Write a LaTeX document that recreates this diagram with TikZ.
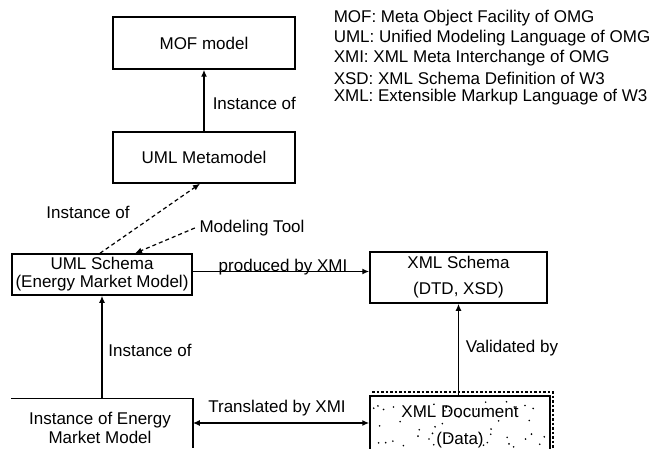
\documentclass[tikz,border=0pt]{standalone}
\usepackage{fontspec}
\setmainfont{Liberation Sans}
\usetikzlibrary{arrows.meta}
\begin{document}
\begin{tikzpicture}[x=1pt,y=-1pt,line width=1.5pt,
  every node/.style={font=\fontsize{17}{18}\selectfont},
  box/.style={draw,rectangle,inner sep=0pt,align=center},
  plain/.style={rectangle,inner sep=0pt,align=center},
  lbl/.style={inner sep=0pt,anchor=west},
  arr/.style={-{Latex[length=7pt,width=6pt]}},
  darr/.style={{Latex[length=7pt,width=6pt]}-{Latex[length=7pt,width=6pt]}},
  dashline/.style={dashed,dash pattern=on 4pt off 3pt,line width=1.2pt}]
\useasboundingbox (0,0) rectangle (650,449);
\clip (0,0) rectangle (650,449);

% legend
\node[lbl] (l1) at (333,18) {MOF: Meta Object Facility of OMG};
\node[lbl] (l2) at (333,38) {UML: Unified Modeling Language of OMG};
\node[lbl] (l3) at (333,58) {XMI: XML Meta Interchange of OMG};
\node[lbl] (l4) at (333,78) {XSD: XML Schema Definition of W3};
\node[lbl] (l5) at (333,97) {XML: Extensible Markup Language of W3};

% boxes
\node[box,minimum width=182pt,minimum height=52pt] (mof) at (204,43) {MOF model};
\node[box,minimum width=182pt,minimum height=51pt] (meta) at (204,157.5) {UML Metamodel};
\node[box,minimum width=180pt,minimum height=41pt] (uml) at (102,274.5) {UML Schema\\(Energy Market Model)};
\node[box,minimum width=177pt,minimum height=51pt] (xsd) at (458.5,277.5) {XML Schema\\[8pt](DTD, XSD)};

% XML document with shadow and speckles
\draw[dotted,line width=2.5pt] (372,392) -- (553,392) -- (553,452);
\node[box,fill=white,minimum width=180pt,minimum height=56pt] (doc) at (460,424) {};
\pgfmathsetseed{7}
\foreach \i in {1,...,45}{
  \pgfmathsetmacro{\px}{373+174*rnd}
  \pgfmathsetmacro{\py}{399+48*rnd}
  \fill (\px,\py) circle (0.9pt);
}
\node[plain] (docT) at (460,426.5) {XML Document\\[9pt](Data)};

% instance box (partly visible)
\node[plain,minimum width=180pt,minimum height=48pt] (inst) at (102,423) {};
\draw (inst.north west) -- (inst.north east) -- (inst.south east);
\node[plain] (instT) at (100,427.5) {Instance of Energy\\[1pt]Market Model};

% connectors
\draw[arr] (meta.north) -- (mof.south);
\node[lbl] (t1) at (212,103) {Instance of};

\draw[arr,dashline] ([xshift=-2pt]uml.north) -- ([xshift=-4pt]meta.south);
\node[plain] (t2) at (88,212) {Instance of};

\node[plain] (mt) at (252,228) {Modeling Tool};
\draw[arr,dashline] ([xshift=-4pt]mt.west) -- ([xshift=33pt]uml.north);

\draw[arr] ([yshift=3pt]uml.east) -- ([yshift=3pt]uml.east -| xsd.west);
\node[plain] (t3) at (283,267) {produced by XMI};

\draw[arr] (doc.north -| xsd.south) -- (xsd.south);
\node[lbl] (t4) at (465,348) {Validated by};

\draw[arr] (inst.north) -- (uml.south);
\node[plain] (t5) at (150,350) {Instance of};

\draw[darr] (inst.east) -- (inst.east -| doc.west);
\node[plain] (t6) at (277,408) {Translated by XMI};
\end{tikzpicture}
\end{document}
